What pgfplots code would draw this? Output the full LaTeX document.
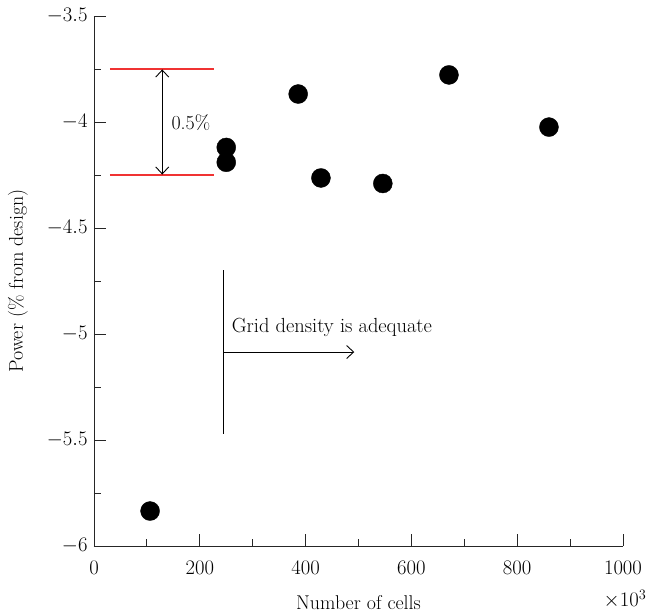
\documentclass[border=0pt]{standalone}
\usepackage{pgfplots}
\pgfplotsset{compat=1.18}
\usetikzlibrary{arrows.meta}
\definecolor{refred}{RGB}{240,50,50}
\begin{document}
\begin{tikzpicture}
\begin{axis}[
  scale only axis, width=529bp, height=530bp,
  xmin=0, xmax=1000, ymin=-6, ymax=-3.5,
  axis x line=bottom, axis y line=left,
  axis line style={-, black!85, line width=0.9pt},
  xtick={0,200,400,600,800,1000}, minor xtick={100,300,500,700,900},
  ytick={-6,-5.5,-5,-4.5,-4,-3.5}, minor ytick={-5.75,-5.25,-4.75,-4.25,-3.75},
  tick align=inside, major tick length=12bp, minor tick length=7bp,
  tick style={black!85, line width=0.9pt},
  every tick label/.append style={font=\fontsize{20.5}{24}\selectfont},
  label style={font=\fontsize{20}{24}\selectfont},
  xticklabel style={/pgf/number format/1000 sep={}, yshift=-12bp},
  xlabel={Number of cells}, ylabel={Power (\% from design)},
  yticklabel style={xshift=-3bp},
  xlabel style={at={([yshift=-57bp]axis description cs:0.5,0)}, anchor=center},
  ylabel style={at={([xshift=-76bp]axis description cs:0,0.5)}, anchor=center},
  clip=false,
]
\addplot[only marks, mark=*, mark size=9.5bp, black] coordinates {
  (106,-5.835) (250,-4.12) (250,-4.19) (386,-3.868) (429,-4.264)
  (546,-4.29) (671,-3.778) (860,-4.024)
};
\addplot[draw=refred, line width=1.3pt, no marks] coordinates {(30,-3.75) (227,-3.75)};
\addplot[draw=refred, line width=1.3pt, no marks] coordinates {(30,-4.25) (227,-4.25)};
\addplot[black, line width=0.9pt, no marks, {Straight Barb[length=7bp,width=13bp]}-{Straight Barb[length=7bp,width=13bp]}] coordinates {(129,-3.752) (129,-4.248)};
\addplot[black, line width=0.9pt, no marks] coordinates {(244,-4.70) (244,-5.47)};
\addplot[black, line width=0.9pt, no marks, -{Straight Barb[length=7bp,width=13bp]}] coordinates {(244,-5.085) (492,-5.085)};
\node[anchor=west, font=\fontsize{20}{24}\selectfont] at (axis cs:140,-4.005) {0.5\%};
\node[anchor=west, font=\fontsize{20.5}{24}\selectfont] at (axis cs:254,-4.97) {Grid density is adequate};
\node[anchor=center, font=\fontsize{20}{24}\selectfont, inner sep=0pt] at ([xshift=2bp, yshift=-53bp]rel axis cs:1,0) {$\times 10^3$};
\coordinate (ll) at (rel axis cs:0,0);
\coordinate (ur) at (rel axis cs:1,1);
\end{axis}
\pgfresetboundingbox
\path[use as bounding box] ([xshift=-94bp,yshift=-70bp]ll) rectangle ([xshift=23bp,yshift=16bp]ur);
\end{tikzpicture}
\end{document}
